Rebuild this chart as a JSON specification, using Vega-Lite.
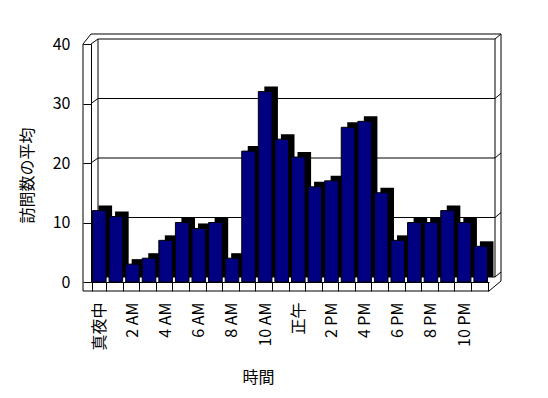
{
  "$schema": "https://vega.github.io/schema/vega-lite/v6.json",
  "width": 398,
  "height": 238,
  "autosize": {"type": "none"},
  "padding": {"left": 91, "top": 44, "right": 59, "bottom": 116},
  "background": "white",
  "config": {
    "font": "Noto Sans CJK JP",
    "view": {"stroke": null},
    "axis": {
      "domainColor": "black", "tickColor": "black", "labelColor": "black", "titleColor": "black",
      "grid": false, "titleFontWeight": "normal", "domainWidth": 1, "tickWidth": 1
    }
  },
  "data": {"values": [
    {"hour": 0, "visits": 12}, {"hour": 1, "visits": 11}, {"hour": 2, "visits": 3}, {"hour": 3, "visits": 4},
    {"hour": 4, "visits": 7}, {"hour": 5, "visits": 10}, {"hour": 6, "visits": 9}, {"hour": 7, "visits": 10},
    {"hour": 8, "visits": 4}, {"hour": 9, "visits": 22}, {"hour": 10, "visits": 32}, {"hour": 11, "visits": 24},
    {"hour": 12, "visits": 21}, {"hour": 13, "visits": 16}, {"hour": 14, "visits": 17}, {"hour": 15, "visits": 26},
    {"hour": 16, "visits": 27}, {"hour": 17, "visits": 15}, {"hour": 18, "visits": 7}, {"hour": 19, "visits": 10},
    {"hour": 20, "visits": 10}, {"hour": 21, "visits": 12}, {"hour": 22, "visits": 10}, {"hour": 23, "visits": 6}
  ]},
  "resolve": {"scale": {"x": "independent"}},
  "layer": [
    {
      "data": {"values": [{"k": 1}]},
      "layer": [
        {"mark": {"type": "rule", "color": "black", "xOffset": -8, "y2Offset": 9},
         "encoding": {"x": {"datum": 0, "type": "quantitative", "scale": {"domain": [0, 24], "nice": false}, "axis": null},
                      "y": {"datum": 40, "type": "quantitative"}, "y2": {"datum": 0}}},
        {"mark": {"type": "rule", "color": "black", "xOffset": 7, "yOffset": -5, "y2Offset": -5},
         "encoding": {"x": {"datum": 0, "type": "quantitative", "scale": {"domain": [0, 24], "nice": false}, "axis": null},
                      "y": {"datum": 40, "type": "quantitative"}, "y2": {"datum": 0}}},
        {"mark": {"type": "rule", "color": "black", "xOffset": 6, "yOffset": -5, "y2Offset": -5},
         "encoding": {"x": {"datum": 24, "type": "quantitative", "scale": {"domain": [0, 24], "nice": false}, "axis": null},
                      "y": {"datum": 40, "type": "quantitative"}, "y2": {"datum": 0}}},
        {"mark": {"type": "rule", "color": "black", "xOffset": 12, "yOffset": -10, "y2Offset": -1},
         "encoding": {"x": {"datum": 24, "type": "quantitative", "scale": {"domain": [0, 24], "nice": false}, "axis": null},
                      "y": {"datum": 40, "type": "quantitative"}, "y2": {"datum": 0}}},
        {"mark": {"type": "rule", "color": "black", "yOffset": -10, "x2Offset": 12},
         "encoding": {"x": {"datum": 0, "type": "quantitative", "scale": {"domain": [0, 24], "nice": false}, "axis": null},
                      "x2": {"datum": 24},
                      "y": {"datum": 40, "type": "quantitative"}}},
        {"mark": {"type": "rule", "color": "black", "xOffset": -8, "y2Offset": -10},
         "encoding": {"x": {"datum": 0, "type": "quantitative", "scale": {"domain": [0, 24], "nice": false}, "axis": null},
                      "x2": {"datum": 0},
                      "y": {"datum": 40, "type": "quantitative"}, "y2": {"datum": 40}}},
        {"mark": {"type": "rule", "color": "black", "yOffset": 9, "xOffset": -8},
         "encoding": {"x": {"datum": 0, "type": "quantitative", "scale": {"domain": [0, 24], "nice": false}, "axis": null},
                      "x2": {"datum": 24},
                      "y": {"datum": 0, "type": "quantitative"}}},
        {"mark": {"type": "rule", "color": "black", "yOffset": 9, "x2Offset": 12, "y2Offset": -1},
         "encoding": {"x": {"datum": 24, "type": "quantitative", "scale": {"domain": [0, 24], "nice": false}, "axis": null},
                      "x2": {"datum": 24},
                      "y": {"datum": 0, "type": "quantitative"}, "y2": {"datum": 0}}},
        {
          "data": {"values": [{"v": 0}, {"v": 10}, {"v": 20}, {"v": 30}, {"v": 40}]},
          "layer": [
            {"mark": {"type": "rule", "color": "black", "xOffset": 7, "x2Offset": 6, "yOffset": -5},
             "encoding": {"x": {"datum": 0, "type": "quantitative", "scale": {"domain": [0, 24], "nice": false}, "axis": null},
                          "x2": {"datum": 24},
                          "y": {"field": "v", "type": "quantitative"}}},
            {"mark": {"type": "rule", "color": "black", "x2Offset": 7, "y2Offset": -5},
             "encoding": {"x": {"datum": 0, "type": "quantitative", "scale": {"domain": [0, 24], "nice": false}, "axis": null},
                          "x2": {"datum": 0},
                          "y": {"field": "v", "type": "quantitative"}, "y2": {"field": "v"}}},
            {"mark": {"type": "rule", "color": "black", "xOffset": 6, "x2Offset": 12, "yOffset": -5, "y2Offset": -10},
             "encoding": {"x": {"datum": 24, "type": "quantitative", "scale": {"domain": [0, 24], "nice": false}, "axis": null},
                          "x2": {"datum": 24},
                          "y": {"field": "v", "type": "quantitative"}, "y2": {"field": "v"}}}
          ]
        }
      ]
    },
    {
      "encoding": {
        "x": {
          "field": "hour", "type": "ordinal",
          "scale": {"paddingInner": 0.18, "paddingOuter": 0.09},
          "axis": {
            "orient": "bottom", "domain": true, "ticks": true, "tickBand": "extent", "tickSize": 9,
            "labelAngle": -90, "labelPadding": 11, "labelFontSize": 16, "labelOverlap": false,
            "labelExpr": "isValid(datum.value) && datum.value % 2 == 0 ? (datum.value == 0 ? '真夜中' : datum.value == 12 ? '正午' : datum.value < 12 ? datum.value + ' AM' : (datum.value - 12) + ' PM') : ''",
            "title": "時間", "titleFontSize": 16, "titleX": 167, "titleY": 95, "titleBaseline": "middle", "titleAlign": "center"
          }
        },
        "y": {
          "field": "visits", "type": "quantitative",
          "scale": {"domain": [0, 40], "nice": false},
          "axis": {
            "values": [0, 10, 20, 30, 40], "tickSize": 8, "labelPadding": 13, "labelFontSize": 16,
            "title": "訪問数の平均", "titleFontSize": 16, "titleX": -64, "titleY": 131,
            "titleAngle": -90, "titleAlign": "center", "titleBaseline": "middle"
          }
        }
      },
      "layer": [
        {"mark": {"type": "bar", "color": "black", "xOffset": 6, "yOffset": -5}},
        {"mark": {"type": "bar", "color": "#000080", "stroke": "black", "strokeWidth": 1}}
      ]
    }
  ]
}
